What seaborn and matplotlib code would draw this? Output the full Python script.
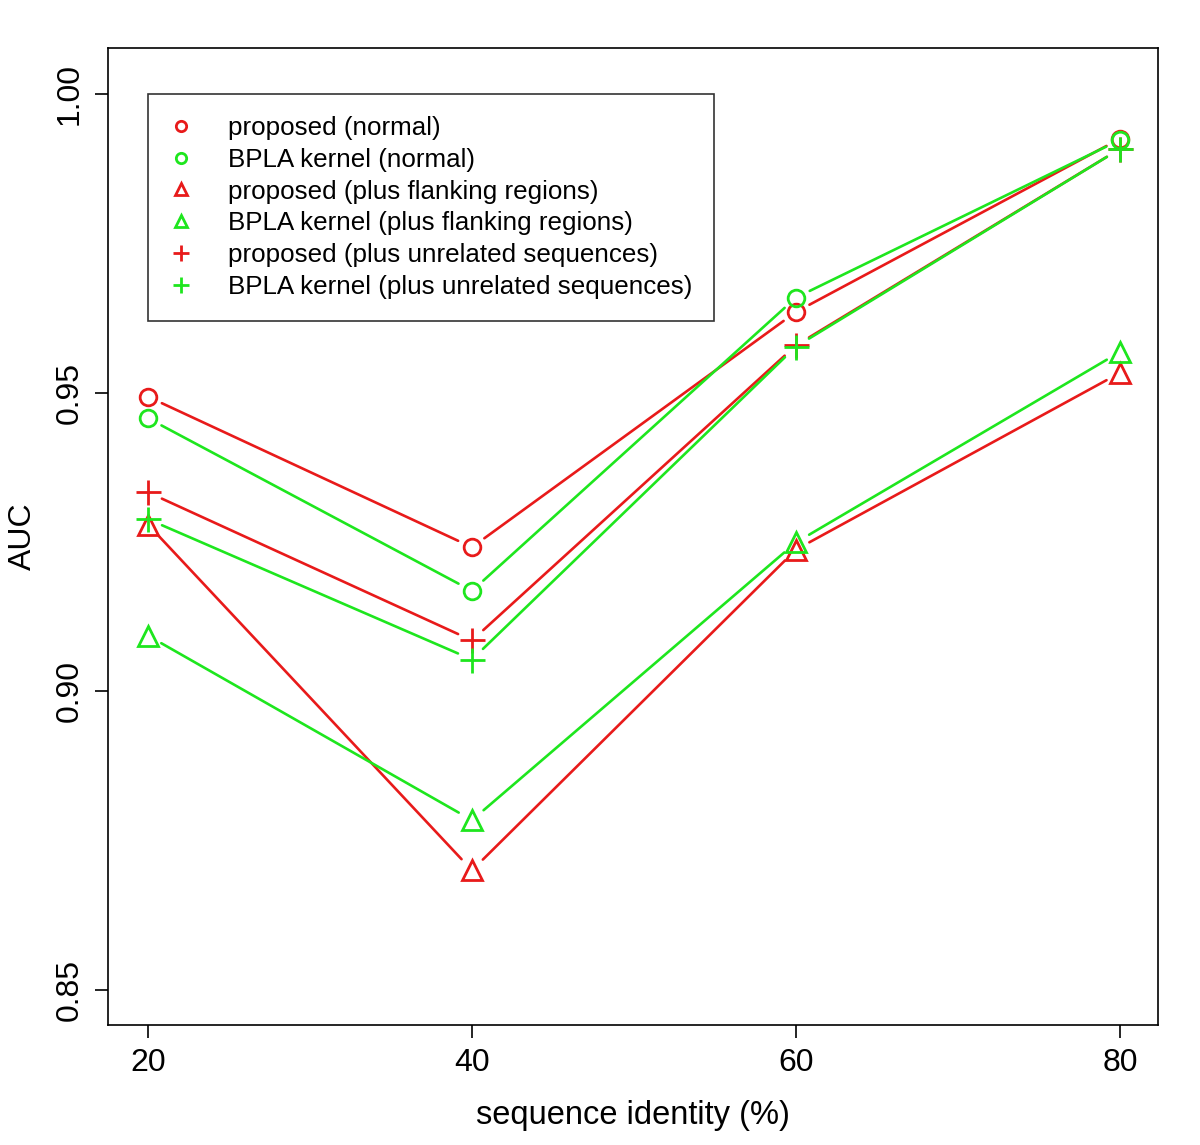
import matplotlib
matplotlib.use("Agg")
import matplotlib.pyplot as plt
from matplotlib.lines import Line2D
import seaborn as sns
import pandas as pd

identity = [20, 40, 60, 80]
proposed_normal = [0.9493, 0.9241, 0.9635, 0.9925]
bpla_normal = [0.9457, 0.9168, 0.9659, 0.9923]
proposed_flank = [0.9279, 0.8700, 0.9237, 0.9533]
bpla_flank = [0.9093, 0.8784, 0.9249, 0.9568]
proposed_unrel = [0.9333, 0.9085, 0.9579, 0.9908]
bpla_unrel = [0.9288, 0.9053, 0.9577, 0.9908]

labels = ["proposed (normal)", "BPLA kernel (normal)",
          "proposed (plus flanking regions)", "BPLA kernel (plus flanking regions)",
          "proposed (plus unrelated sequences)", "BPLA kernel (plus unrelated sequences)"]
series = [proposed_normal, bpla_normal, proposed_flank, bpla_flank, proposed_unrel, bpla_unrel]

RED = "#e81a1a"
GREEN = "#1ee61e"
colors = [RED, GREEN, RED, GREEN, RED, GREEN]
markers = ["o", "o", "^", "^", "+", "+"]
msizes = [12, 12, 15, 15, 18, 18]
gap = 11

sns.set_style("white")
plt.rcParams["font.family"] = ["Liberation Sans", "DejaVu Sans"]
plt.rcParams["text.color"] = "black"
plt.rcParams["axes.labelcolor"] = "black"
plt.rcParams["xtick.color"] = "black"
plt.rcParams["ytick.color"] = "black"

fig = plt.figure(figsize=(12, 11.45), dpi=100)
ax = fig.add_axes([0.09, 0.1048, 0.875, 0.8533])

for i, (lab, ys) in enumerate(zip(labels, series)):
    df = pd.DataFrame({"x": identity, "y": ys})
    z = 3 + i
    # line segments with gaps around the points (R type = "b")
    for j in range(len(identity) - 1):
        ax.annotate("", xy=(identity[j + 1], ys[j + 1]), xytext=(identity[j], ys[j]),
                    xycoords="data", textcoords="data",
                    arrowprops=dict(arrowstyle="-", color=colors[i], lw=1.9,
                                    shrinkA=gap, shrinkB=gap),
                    zorder=z)
    sns.lineplot(data=df, x="x", y="y", ax=ax, linestyle="", marker=markers[i],
                 markersize=msizes[i], markerfacecolor="none",
                 markeredgecolor=colors[i], markeredgewidth=2.0,
                 color=colors[i], zorder=z, legend=False)

ax.set_xlim(17.53, 82.35)
ax.set_ylim(0.8441, 1.0077)
ax.set_xticks(identity)
ax.set_xticklabels([str(v) for v in identity])
yt = [0.85, 0.90, 0.95, 1.00]
ax.set_yticks(yt)
ax.set_yticklabels([f"{v:.2f}" for v in yt], rotation=90, va="center")
ax.tick_params(axis="both", direction="out", length=9.5, width=1.2, colors="black",
               labelsize=23, pad=7, left=True, bottom=True)
for s in ax.spines.values():
    s.set_visible(True)
    s.set_color("black")
    s.set_linewidth(1.2)
ax.set_xlabel("sequence identity (%)", fontsize=23.5, labelpad=16, color="black")
ax.set_ylabel("AUC", fontsize=23, labelpad=12, color="black")

handles = [Line2D([], [], linestyle="", marker=m, markersize=s * 0.62,
                  markerfacecolor="none", markeredgecolor=c, markeredgewidth=2.0, color=c)
           for m, s, c in zip(markers, msizes, colors)]
leg = ax.legend(handles, labels, loc="upper left", bbox_to_anchor=(0.038, 0.953),
                fontsize=18.7, frameon=True, fancybox=False, edgecolor="black",
                labelspacing=0.30, handletextpad=1.37, borderpad=0.85, borderaxespad=0,
                handlelength=0.85, labelcolor="black")
leg.get_frame().set_linewidth(1.2)
leg.set_zorder(20)

fig.savefig("out.png", dpi=100, facecolor="white")
